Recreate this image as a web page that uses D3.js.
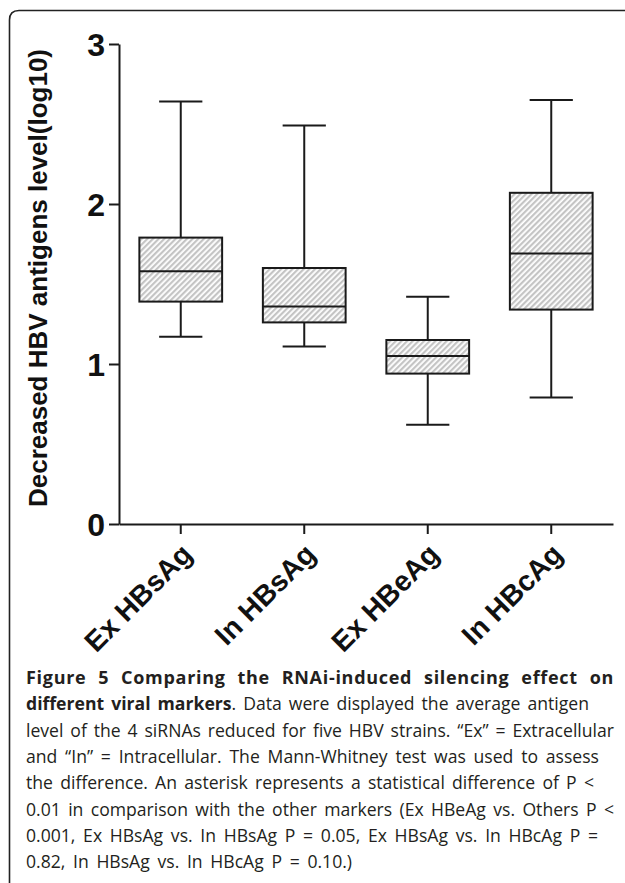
<!DOCTYPE html>
<html>
<head>
<meta charset="utf-8">
<script src="https://cdn.jsdelivr.net/npm/d3@7"></script>
<style>
  body { margin: 0; background: #fff; }
  svg { display: block; }
</style>
</head>
<body>
<div id="chart"></div>
<script>
// box plot values (log10 decrease)
var categories = ["Ex HBsAg", "In HBsAg", "Ex HBeAg", "In HBcAg"];
var whiskerLow = [1.17, 1.11, 0.62, 0.79];
var q1 = [1.39, 1.26, 0.94, 1.34];
var median = [1.58, 1.36, 1.05, 1.69];
var q3 = [1.79, 1.60, 1.15, 2.07];
var whiskerHigh = [2.64, 2.49, 1.42, 2.65];
var yTicks = [0, 1, 2, 3];

var yTitle = "Decreased HBV antigens level(log10)";
var captionBold1 = "Figure 5 Comparing the RNAi-induced silencing effect on";
var captionBold2 = "different viral markers";
var captionLines = [
    ". Data were displayed the average antigen",
    "level of the 4 siRNAs reduced for five HBV strains. \u201cEx\u201d = Extracellular",
    "and \u201cIn\u201d = Intracellular. The Mann-Whitney test was used to assess",
    "the difference. An asterisk represents a statistical difference of P <",
    "0.01 in comparison with the other markers (Ex HBeAg vs. Others P <",
    "0.001, Ex HBsAg vs. In HBsAg P = 0.05, Ex HBsAg vs. In HBcAg P =",
    "0.82, In HBsAg vs. In HBcAg P = 0.10.)"
];
// right edge of each caption line in the figure
var captionEnds = [614, 589, 614, 599, 594, 614, 598, 352];

function init() {
    var w = 625;
    var h = 883;
    var ink = "#1a1a1a";

    var svg = d3.select("#chart")
        .append("svg")
        .attr("width", w)
        .attr("height", h);

    // hatched fill for the boxes
    var pat = svg.append("defs").append("pattern")
        .attr("id", "hatch")
        .attr("patternUnits", "userSpaceOnUse")
        .attr("width", 4)
        .attr("height", 4)
        .attr("patternTransform", "rotate(45)");
    pat.append("rect").attr("width", 4).attr("height", 4).attr("fill", "#fff");
    pat.append("rect").attr("width", 2.2).attr("height", 4).attr("fill", "#c4c4c4");

    // frame: top and left edges with a rounded corner
    svg.append("path")
        .attr("d", "M9.5," + h + " V20 Q9.5,10.5 19,10.5 H" + w)
        .attr("fill", "none")
        .attr("stroke", "#222")
        .attr("stroke-width", 1.6);

    var x = d3.scaleBand().domain(categories).range([119, 613]);
    var y = d3.scaleLinear().domain([0, 3]).range([524, 44]);

    var bw = x.bandwidth();
    var boxW = bw * 0.67;
    var capW = bw * 0.35;

    var yAxis = svg.append("g")
        .attr("transform", "translate(119,0)")
        .call(d3.axisLeft(y).tickValues(yTicks).tickSize(10).tickSizeOuter(0).tickPadding(4).tickFormat(d3.format("d")));
    yAxis.selectAll("path, line").attr("stroke", ink).attr("stroke-width", 2);
    yAxis.selectAll("text")
        .attr("fill", "#111")
        .style("font-family", "Liberation Sans, Arial, sans-serif")
        .style("font-weight", "bold")
        .style("font-size", "32px")
        .attr("dy", "0.36em");

    var xAxis = svg.append("g")
        .attr("transform", "translate(0,524)")
        .call(d3.axisBottom(x).tickSize(10).tickSizeOuter(0));
    xAxis.selectAll("path, line").attr("stroke", ink).attr("stroke-width", 2);
    xAxis.selectAll("text").remove();

    svg.selectAll("text.xlab")
        .data(categories)
        .enter()
        .append("text")
        .attr("class", "xlab")
        .attr("transform", function(d) {
            return "translate(" + (x(d) + bw / 2 + 13) + ",556) rotate(-45)";
        })
        .attr("text-anchor", "end")
        .attr("fill", "#111")
        .style("font-family", "Liberation Sans, Arial, sans-serif")
        .style("font-weight", "bold")
        .style("font-size", "28.5px")
        .text(function(d) { return d; });

    svg.append("text")
        .attr("transform", "translate(47," + ((44 + 524) / 2 - 6) + ") rotate(-90)")
        .attr("text-anchor", "middle")
        .attr("fill", "#111")
        .style("font-family", "Liberation Sans, Arial, sans-serif")
        .style("font-weight", "bold")
        .style("font-size", "26px")
        .text(yTitle);

    // boxes
    var g = svg.selectAll("g.box")
        .data(categories)
        .enter()
        .append("g")
        .attr("class", "box");

    var cx = function(d) { return x(d) + bw / 2; };

    // whisker stems
    g.append("line")
        .attr("x1", cx).attr("x2", cx)
        .attr("y1", function(d, i) { return y(whiskerHigh[i]); })
        .attr("y2", function(d, i) { return y(q3[i]); });
    g.append("line")
        .attr("x1", cx).attr("x2", cx)
        .attr("y1", function(d, i) { return y(q1[i]); })
        .attr("y2", function(d, i) { return y(whiskerLow[i]); });
    // caps
    g.append("line")
        .attr("x1", function(d) { return cx(d) - capW / 2; })
        .attr("x2", function(d) { return cx(d) + capW / 2; })
        .attr("y1", function(d, i) { return y(whiskerHigh[i]); })
        .attr("y2", function(d, i) { return y(whiskerHigh[i]); });
    g.append("line")
        .attr("x1", function(d) { return cx(d) - capW / 2; })
        .attr("x2", function(d) { return cx(d) + capW / 2; })
        .attr("y1", function(d, i) { return y(whiskerLow[i]); })
        .attr("y2", function(d, i) { return y(whiskerLow[i]); });
    // box
    g.append("rect")
        .attr("x", function(d) { return cx(d) - boxW / 2; })
        .attr("y", function(d, i) { return y(q3[i]); })
        .attr("width", boxW)
        .attr("height", function(d, i) { return y(q1[i]) - y(q3[i]); })
        .attr("fill", "url(#hatch)");
    g.append("line")
        .attr("x1", function(d) { return cx(d) - boxW / 2; })
        .attr("x2", function(d) { return cx(d) + boxW / 2; })
        .attr("y1", function(d, i) { return y(median[i]); })
        .attr("y2", function(d, i) { return y(median[i]); });
    g.selectAll("line, rect")
        .attr("stroke", ink)
        .attr("stroke-width", 2);

    // caption
    var capFont = "Open Sans, sans-serif";
    var left = 26;
    var lineH = 26.3;
    var base = 684;

    var allLines = [captionBold1].concat(captionLines);
    var cap = svg.selectAll("text.cap")
        .data(allLines)
        .enter()
        .append("text")
        .attr("class", "cap")
        .attr("x", left)
        .attr("y", function(d, i) { return base + lineH * i; })
        .attr("fill", "#231f20")
        .style("font-family", capFont)
        .style("font-size", "17.6px");

    cap.each(function(d, i) {
        var t = d3.select(this);
        if (i === 0) {
            t.style("font-weight", "bold")
                .style("font-size", "18px")
                .style("letter-spacing", "0.7px");
            t.append("tspan").text(d);
        } else if (i === 1) {
            t.append("tspan").style("font-weight", "bold").text(captionBold2);
            t.append("tspan").text(d);
        } else {
            t.append("tspan").text(d);
        }
        // spread words so the line ends where it does in the figure
        var natural = this.getComputedTextLength();
        var txt = i === 1 ? captionBold2 + d : d;
        var spaces = txt.split(" ").length - 1;
        var extra = (captionEnds[i] - left - natural) / spaces;
        t.style("word-spacing", extra + "px");
    });
}
window.onload = init;
</script>
</body>
</html>
